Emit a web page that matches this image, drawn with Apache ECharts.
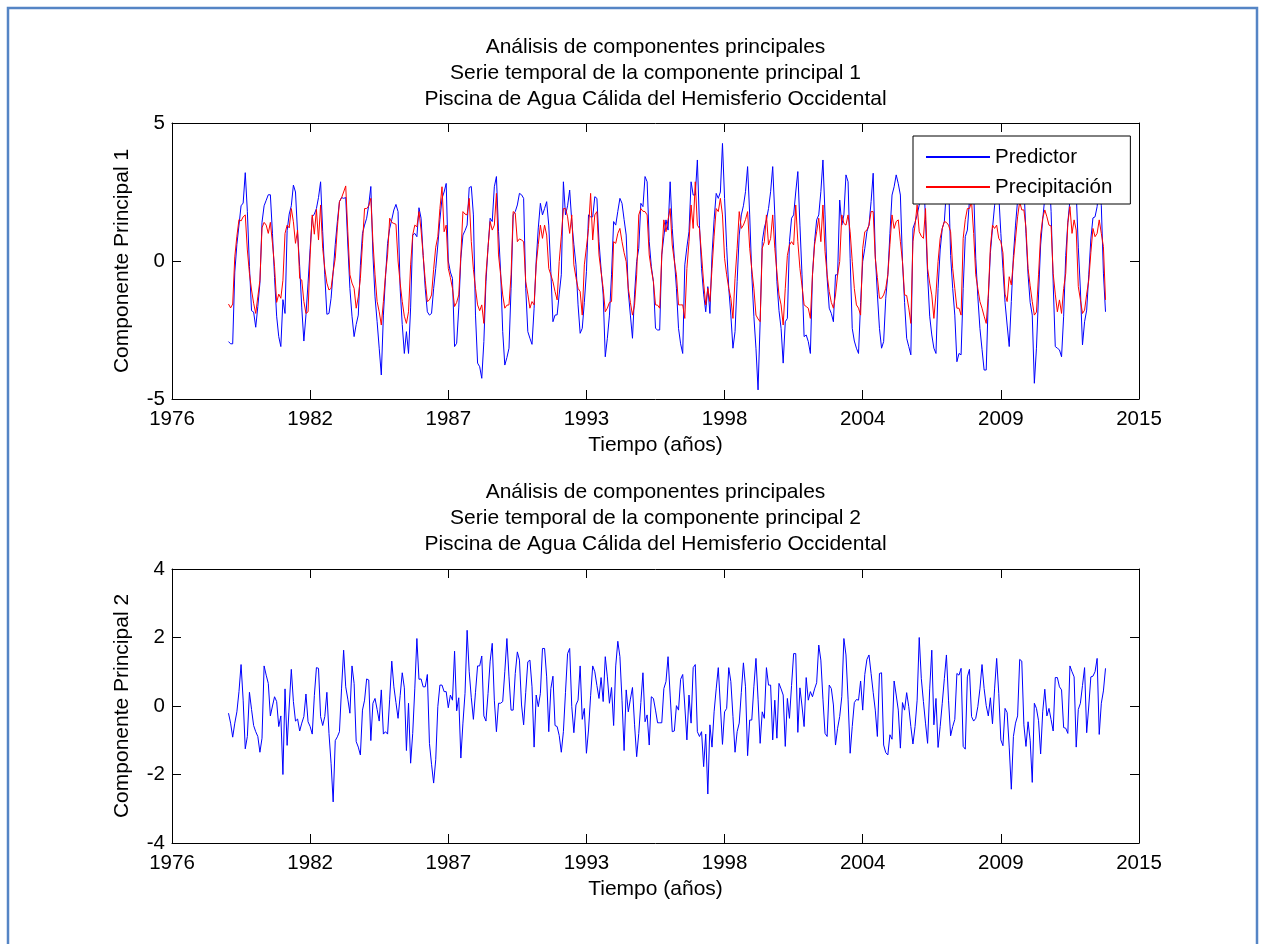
<!DOCTYPE html>
<html>
<head>
<meta charset="utf-8">
<title>Análisis de componentes principales</title>
<script src="https://cdn.jsdelivr.net/npm/echarts@6/dist/echarts.min.js"></script>
<style>
  html, body { margin: 0; padding: 0; background: #fff; }
  #chart { width: 1263px; height: 944px; }
</style>
</head>
<body>
<div id="chart"></div>
<script>
// etiquetas del eje de tiempo, una marca cada 66 meses
const tickLabels = ['1976', '1982', '1987', '1993', '1998', '2004', '2009', '2015'];
const firstMonth = 27; // ene 1979, en meses desde el inicio del eje

// CP1 - predictor (azul), mensual 1979-2013, una fila por año
const predictor = [
  -2.92, -3.0, -3.0, -0.4, 0.6, 1.3, 2.0, 2.1, 3.2, 1.8, -0.2, -1.8,
  -1.85, -2.4, -1.65, -0.8, 1.4, 2.0, 2.2, 2.4, 2.4, 1.0, -0.6, -2.0,
  -2.74, -3.1, -1.4, -1.9, 1.1, 1.7, 2.0, 2.75, 2.5, 1.0, -0.2, -1.7,
  -2.9, -1.95, -0.8, 0.45, 1.6, 1.7, 1.9, 2.3, 2.87, 1.06, -0.5, -1.93,
  -1.9, -1.35, -0.4, 0.6, 1.43, 2.15, 2.3, 2.27, 2.3, 0.58, -1.0, -2.0,
  -2.74, -2.3, -1.96, -0.15, 1.0, 1.3, 1.55, 2.03, 2.7, 0.22, -1.3, -2.2,
  -3.16, -4.13, -1.96, -0.6, 0.64, 1.18, 1.5, 1.85, 2.05, 1.79, -1.0, -2.3,
  -3.35, -2.56, -3.35, -1.7, 0.94, 1.0, 0.88, 1.93, 1.55, 0.2, -1.0, -1.84,
  -1.96, -1.9, -1.0, -0.27, 0.58, 1.5, 2.27, 2.5, 2.81, 0.0, -0.4, -0.63,
  -3.1, -2.98, -1.7, 0.1, 0.94, 1.1, 1.3, 2.66, 2.7, 1.67, -1.96, -3.7,
  -3.83, -4.25, -2.92, -0.75, 0.5, 1.55, 1.43, 2.69, 3.06, 1.06, -0.39, -2.56,
  -3.77, -3.5, -3.16, -0.99, 1.67, 1.79, 2.03, 2.45, 2.4, 2.27, -0.99, -2.56,
  -2.8, -3.02, -1.71, 0.0, 1.2, 2.09, 1.67, 1.9, 2.15, 1.3, -0.39, -2.2,
  -1.96, -1.95, -1.2, -0.5, 2.87, 1.67, 2.0, 2.57, 1.43, 0.6, -0.14, -1.59,
  -2.62, -2.44, -1.5, -0.39, 1.67, 1.6, 1.6, 2.33, 2.27, 0.7, -0.3, -1.23,
  -3.47, -2.8, -1.96, -0.5, 1.43, 1.3, 1.8, 2.27, 2.09, 1.5, 0.94, -1.11,
  -1.96, -2.8, -1.2, -0.02, 0.46, 2.09, 1.97, 3.06, 2.87, 0.7, -0.2, -0.75,
  -2.44, -2.5, -2.5, 0.22, 0.9, 1.49, 1.12, 2.87, 1.18, 0.1, -0.99, -2.44,
  -3.0, -3.35, -0.14, 0.5, 1.06, 2.87, 2.39, 2.39, 3.66, 1.3, -0.27, -1.2,
  -1.84, -0.93, -1.9, 0.22, 1.5, 2.45, 2.27, 2.5, 4.26, 2.27, 0.5, -0.99,
  -1.96, -3.16, -2.56, -0.75, 0.94, 1.67, 2.0, 2.51, 3.42, 1.67, -0.5, -2.0,
  -3.16, -4.67, -2.2, 0.7, 1.2, 1.49, 1.9, 2.51, 3.42, 1.67, -0.75, -1.8,
  -2.44, -3.7, -2.2, -2.08, 0.7, 1.55, 1.67, 2.5, 3.24, 1.3, -0.5, -2.74,
  -2.68, -2.92, -3.35, -0.5, 0.7, 1.49, 1.67, 2.51, 3.66, 1.67, -0.63, -1.71,
  -1.9, -2.2, -0.5, -0.5, 2.21, 1.3, 1.67, 3.12, 2.87, 0.1, -2.44, -2.9,
  -3.16, -3.35, -1.5, -0.02, 0.46, 1.06, 1.3, 2.15, 3.18, 0.22, -1.2, -2.44,
  -3.16, -2.92, -1.35, -0.5, 1.0, 2.39, 2.69, 3.12, 2.8, 2.39, -0.02, -1.5,
  -2.8, -3.1, -3.4, 1.18, 1.4, 1.67, 2.03, 2.8, 3.2, 1.5, -0.5, -2.0,
  -2.68, -3.16, -3.35, -0.99, 0.4, 1.18, 1.43, 2.6, 3.0, 0.2, -1.0, -1.96,
  -3.65, -3.35, -3.4, -1.0, 0.88, 1.12, 2.2, 2.9, 2.6, 0.1, -1.3, -2.44,
  -3.2, -3.95, -3.95, -1.35, 0.3, 1.18, 2.0, 2.6, 2.4, 1.0, -0.27, -1.5,
  -2.32, -3.1, -1.47, 0.2, 1.3, 2.2, 2.5, 3.0, 2.7, 1.0, -0.5, -1.5,
  -1.96, -4.43, -3.16, -1.23, 0.58, 1.5, 2.3, 2.9, 3.3, 1.8, -0.8, -3.1,
  -3.16, -3.22, -3.47, -2.0, 0.2, 1.4, 2.2, 3.0, 3.3, 2.5, 0.5, -1.05,
  -3.04, -2.2, -1.78, -0.5, 0.8, 1.56, 1.6, 1.97, 2.8, 2.0, -0.44, -1.84
];

// CP1 - precipitación (rojo)
const precipitacion = [
  -1.56, -1.7, -1.56, 0.15, 0.9, 1.5, 1.45, 1.6, 1.67, 0.4, -0.45, -1.05,
  -1.53, -1.9, -1.3, -0.7, 1.2, 1.4, 1.3, 1.0, 1.4, 0.65, -0.2, -1.5,
  -1.2, -1.35, -0.7, 1.0, 1.3, 1.2, 1.9, 1.42, 0.64, 1.12, -0.63, -0.69,
  -1.47, -1.9, -1.84, 0.22, 1.67, 0.97, 1.87, 0.76, 2.03, 0.46, -0.27, -0.8,
  -1.05, -0.99, -0.39, 0.1, 1.2, 2.15, 2.29, 2.5, 2.72, 1.06, -0.5, -0.8,
  -0.99, -1.71, -1.3, -0.63, 0.64, 1.9, 1.9, 2.0, 2.27, 0.7, -0.5, -1.47,
  -1.84, -2.32, -1.47, -0.5, 0.22, 1.55, 1.4, 1.36, 1.33, 0.0, -0.8, -1.47,
  -2.0, -2.26, -1.84, -0.14, 0.94, 1.3, 1.24, 1.79, 1.12, 0.2, -0.7, -1.47,
  -1.41, -1.23, -0.3, 0.5, 0.88, 1.9, 2.69, 1.06, 1.3, -0.27, -0.6, -0.99,
  -1.65, -1.5, -1.23, 0.22, 1.79, 1.7, 1.67, 2.27, 0.7, -0.3, -0.99, -1.59,
  -1.8, -1.59, -2.26, -0.5, 0.5, 1.43, 1.12, 1.3, 2.45, 0.22, -0.5, -1.23,
  -1.71, -1.6, -1.59, -0.5, 1.79, 1.73, 0.7, 0.8, 0.76, 0.7, -0.75, -1.2,
  -1.71, -1.47, -1.59, -0.14, 0.6, 1.3, 0.82, 1.3, 0.94, -0.27, -0.5, -0.75,
  -1.11, -1.41, -0.02, 0.9, 1.9, 1.9, 1.6, 1.0, 1.67, -0.14, -0.6, -0.99,
  -1.11, -1.96, -0.14, 0.5, 1.18, 2.45, 0.76, 1.67, 1.79, 0.22, -0.4, -0.99,
  -1.84, -1.71, -1.5, -1.47, 0.7, 0.64, 1.0, 1.18, 0.7, 0.3, -0.02, -0.99,
  -1.5, -1.96, -1.6, -0.5, 1.67, 1.9, 1.8, 1.79, 1.67, 0.22, -0.3, -0.75,
  -1.59, -1.6, -1.71, 0.22, 1.49, 1.06, 1.5, 1.9, 0.58, 0.0, -0.5, -1.59,
  -1.59, -1.59, -2.08, -0.27, 0.7, 2.03, 1.18, 2.87, 1.3, 1.18, 0.22, -0.8,
  -1.59, -0.99, -1.47, -0.27, 0.9, 1.9, 1.79, 2.27, 1.67, 0.1, -0.5, -0.99,
  -1.35, -2.08, -0.63, 0.46, 1.79, 1.18, 1.3, 1.5, 1.79, 0.46, -0.3, -0.99,
  -1.96, -2.1, -2.2, 0.46, 0.7, 1.67, 0.58, 0.82, 1.67, 0.46, -0.4, -1.23,
  -1.59, -2.32, -0.99, 0.2, 0.58, 0.7, 0.58, 2.03, 0.7, -0.27, -0.9, -1.59,
  -1.65, -1.71, -2.08, -0.5, 0.58, 1.06, 1.55, 0.7, 2.03, 0.34, -0.5, -1.11,
  -1.5, -1.71, -1.23, -0.5, -0.02, 1.67, 1.36, 1.3, 1.67, 1.06, -0.02, -1.0,
  -1.59, -1.71, -1.96, 0.46, 1.06, 1.12, 1.3, 1.79, 1.79, 0.1, -0.6, -1.35,
  -1.35, -1.23, -0.99, -0.5, 0.6, 1.67, 1.18, 1.43, 1.49, 0.7, -0.02, -1.23,
  -1.25, -1.7, -2.26, 0.7, 1.3, 2.03, 1.06, 0.9, 0.82, 1.9, -0.27, -0.8,
  -1.23, -2.08, -1.2, -0.02, 0.82, 1.18, 1.43, 1.4, 1.3, 1.06, -0.27, -1.0,
  -1.71, -1.71, -1.96, 0.82, 1.5, 1.9, 1.9, 2.15, 1.0, -0.5, -1.0, -1.47,
  -1.71, -2.0, -2.26, -1.23, 0.5, 1.3, 1.18, 1.3, 0.82, 0.7, 0.3, -1.2,
  -1.47, -0.57, -0.87, 0.0, 0.8, 1.6, 2.15, 1.85, 1.85, 1.2, -0.27, -0.9,
  -1.47, -1.96, -1.85, -0.5, 0.94, 1.55, 1.85, 1.6, 1.3, 1.27, -0.45, -1.2,
  -1.84, -1.41, -1.9, -1.0, -0.45, 1.37, 1.97, 1.0, 1.49, 1.12, -0.93, -1.4,
  -1.9, -1.78, -1.2, -0.69, 0.3, 1.18, 0.88, 1.0, 1.49, 1.0, 0.52, -1.41
];

// CP2 (azul)
const componente2 = [
  -0.21, -0.5, -0.91, -0.5, -0.17, 0.42, 1.21, 0.17, -1.25, -0.89, 0.4, -0.1,
  -0.57, -0.75, -0.89, -1.35, -0.94, 1.17, 0.9, 0.66, -0.29, 0.0, 0.27, 0.13,
  -0.6, -0.29, -2.0, 0.5, -1.15, 0.0, 1.07, 0.13, -0.44, -0.38, -0.73, -0.5,
  -0.31, 0.35, -0.46, -0.6, -0.82, 0.3, 1.12, 1.1, -0.31, -0.57, -0.31, 0.4,
  -0.8, -1.67, -2.8, -1.01, -0.9, -0.75, 0.5, 1.63, 0.56, 0.2, -0.21, 1.17,
  0.66, -1.04, -1.2, -1.43, -0.12, 0.17, 0.79, 0.76, -1.01, 0.08, 0.22, -0.1,
  -0.44, 0.47, -0.82, -0.75, -0.82, 0.2, 1.31, 0.56, 0.1, -0.36, 0.3, 0.97,
  0.53, -1.3, 0.08, -1.67, -0.8, 0.5, 1.97, 0.78, 0.79, 0.56, 0.56, 0.92,
  -1.09, -1.7, -2.25, -1.57, -0.02, 0.61, 0.61, 0.42, 0.42, -0.05, 0.32, 0.17,
  1.6, -0.14, 0.24, -1.52, -0.5, 0.37, 2.21, 1.0, 0.24, -0.39, 0.4, 1.17,
  1.17, 1.46, -0.29, -0.44, 0.37, 1.31, 1.83, 0.17, -0.75, 0.08, 0.08, 0.13,
  1.0, 1.97, 0.85, -0.12, -0.12, 0.95, 1.58, 1.34, 0.03, -0.55, 0.4, 1.29,
  1.34, 0.56, -1.2, 0.32, -0.02, 0.37, 1.68, 1.68, 0.85, -0.75, 0.51, 0.87,
  -0.57, -0.6, -0.86, -1.35, -0.75, 0.4, 1.53, 1.68, -0.02, -0.78, 0.03, 0.17,
  1.17, -0.39, -0.07, -1.38, -0.7, 0.3, 1.17, 1.0, 0.6, 0.22, 0.83, 0.13,
  1.44, 0.85, 0.08, 0.54, -0.57, 1.17, 1.89, 1.44, 0.17, -1.3, 0.47, -0.17,
  0.2, 0.54, -0.55, -1.48, -0.8, 0.1, 0.97, -0.46, -0.26, -1.14, 0.27, 0.22,
  -0.12, -0.49, -0.49, -0.49, 0.51, 0.71, 1.44, 0.32, -0.75, -0.73, 0.01, -0.12,
  0.78, 0.92, 0.0, -0.99, 0.32, -0.5, 1.12, 1.21, -0.75, -0.89, -0.75, -1.77,
  -0.82, -2.57, -0.55, -1.2, -0.17, 0.5, 1.12, 0.0, -1.12, -0.17, -0.07, 1.12,
  0.71, -0.3, -1.35, -0.75, -0.5, 0.4, 1.26, 0.56, -1.45, -0.41, -0.41, 0.56,
  1.39, 0.2, -1.09, -0.17, -0.36, 1.12, 0.61, 0.61, -0.99, 0.17, -0.94, 0.66,
  0.5, 0.32, -1.18, 0.22, -0.36, 0.6, 1.53, 1.53, -0.77, 0.53, 0.0, -0.6,
  0.83, 0.17, 0.42, 0.27, 0.5, 0.68, 1.78, 1.34, 0.2, -0.8, -0.89, 0.61,
  0.51, 0.03, -1.14, -0.65, -0.31, 0.27, 1.97, 1.49, 0.2, -1.38, -0.6, 0.1,
  0.19, 0.17, 0.73, -0.12, 0.92, 1.36, 1.49, 0.95, 0.4, -0.12, -0.89, 0.95,
  0.97, -1.14, -1.36, -1.43, -0.84, -0.97, 0.73, 0.32, -0.12, -1.23, 0.1, -0.12,
  0.39, -0.02, -0.6, -1.11, -0.6, 0.17, 2.0, 0.8, 0.13, -0.5, -1.09, 0.5,
  1.63, -0.55, 0.22, -1.21, -0.6, 0.08, 0.8, 1.49, 0.17, -0.87, -0.6, -0.39,
  0.95, 0.9, 1.1, -1.18, -1.26, 0.85, 1.07, -0.31, -0.44, -0.36, -0.02, 0.5,
  1.21, 0.51, 0.01, -0.29, 0.24, -0.52, 0.5, 1.39, 0.37, -0.99, -1.16, -0.07,
  -0.19, -1.2, -2.43, -0.89, -0.5, -0.29, 1.36, 1.31, -0.55, -1.18, -0.46, -1.0,
  -2.23, 0.08, -0.07, -0.43, -1.4, -0.17, 0.49, -0.29, -0.07, -0.4, -0.73, 0.83,
  0.83, 0.56, 0.47, -0.63, -0.65, -0.8, 1.17, 1.0, 0.85, -1.2, -0.1, 0.08,
  0.6, 1.12, -0.78, 0.0, 0.85, 0.87, 1.0, 1.39, -0.83, 0.08, 0.44, 1.1
];

const font = 'Liberation Sans, Arial, Helvetica, sans-serif';
const tickStep = 66;

const chart = echarts.init(document.getElementById('chart'), null, { renderer: 'canvas' });

const toPoints = arr => arr.map((v, i) => [firstMonth + i, v]);

// eje x (abajo con etiquetas, arriba solo marcas)
function ejeX(grid, pos) {
  const labels = pos === 'bottom';
  return {
    type: 'value', gridIndex: grid, position: pos,
    min: 0, max: tickStep * 7, interval: tickStep,
    axisLine: { show: true, onZero: false, lineStyle: { color: '#000', width: 1 } },
    axisTick: { show: true, inside: true, length: 9, lineStyle: { color: '#000', width: 1 } },
    axisLabel: {
      show: labels, margin: 10, color: '#000', fontSize: 20.5, fontFamily: font,
      showMinLabel: true, showMaxLabel: true,
      formatter: v => tickLabels[Math.round(v / tickStep)]
    },
    splitLine: { show: false },
    name: labels ? 'Tiempo (años)' : '',
    nameLocation: 'middle', nameGap: 36,
    nameTextStyle: { color: '#000', fontSize: 21, fontFamily: font }
  };
}

function ejeY(grid, pos, lim, step, nombre) {
  const labels = pos === 'left';
  return {
    type: 'value', gridIndex: grid, position: pos,
    min: -lim, max: lim, interval: step,
    axisLine: { show: true, onZero: false, lineStyle: { color: '#000', width: 1 } },
    axisTick: { show: true, inside: true, length: 9, lineStyle: { color: '#000', width: 1 } },
    axisLabel: {
      show: labels, margin: 7, color: '#000', fontSize: 20.5, fontFamily: font,
      showMinLabel: true, showMaxLabel: true
    },
    splitLine: { show: false },
    name: labels ? nombre : '',
    nameLocation: 'middle', nameGap: 39, nameRotate: 90,
    nameTextStyle: { color: '#000', fontSize: 21, fontFamily: font }
  };
}

function titulo(y, n) {
  return {
    type: 'text', x: 655.5, y: y,
    style: {
      text: 'Análisis de componentes principales\n' +
            'Serie temporal de la componente principal ' + n + '\n' +
            'Piscina de Agua Cálida del Hemisferio Occidental',
      fill: '#000', font: '21px ' + font, lineHeight: 26,
      align: 'center', verticalAlign: 'top'
    }
  };
}

chart.setOption({
  animation: false,
  backgroundColor: '#fff',
  grid: [
    { left: 172, top: 123, width: 967, height: 276, outerBoundsMode: 'none' },
    { left: 172, top: 569, width: 967, height: 274, outerBoundsMode: 'none' }
  ],
  xAxis: [ejeX(0, 'bottom'), ejeX(0, 'top'), ejeX(1, 'bottom'), ejeX(1, 'top')],
  yAxis: [
    ejeY(0, 'left', 5, 5, 'Componente Principal 1'),
    ejeY(0, 'right', 5, 5, ''),
    ejeY(1, 'left', 4, 2, 'Componente Principal 2'),
    ejeY(1, 'right', 4, 2, '')
  ],
  legend: {
    data: ['Predictor', 'Precipitación'],
    orient: 'vertical',
    left: 913, top: 136,
    padding: [10, 18, 6, 13],
    itemGap: 8, itemWidth: 64, itemHeight: 2,
    icon: 'rect',
    backgroundColor: '#fff', borderColor: '#000', borderWidth: 1,
    textStyle: { color: '#000', fontSize: 20.5, lineHeight: 22, fontFamily: font },
    selectedMode: false,
    z: 10
  },
  graphic: [
    titulo(34, 1),
    titulo(479, 2),
    {
      type: 'rect', silent: true,
      shape: { x: 8, y: 8, width: 1249, height: 950 },
      style: { fill: 'none', stroke: '#5585c5', lineWidth: 2.5 }
    }
  ],
  series: [
    {
      name: 'Predictor', type: 'line', xAxisIndex: 0, yAxisIndex: 0,
      symbol: 'none', color: '#0000ff',
      lineStyle: { color: '#0000ff', width: 1 },
      data: toPoints(predictor)
    },
    {
      name: 'Precipitación', type: 'line', xAxisIndex: 0, yAxisIndex: 0,
      symbol: 'none', color: '#ff0000',
      lineStyle: { color: '#ff0000', width: 1 },
      data: toPoints(precipitacion)
    },
    {
      name: 'CP2', type: 'line', xAxisIndex: 2, yAxisIndex: 2,
      symbol: 'none', color: '#0000ff',
      lineStyle: { color: '#0000ff', width: 1 },
      data: toPoints(componente2)
    }
  ]
});
</script>
</body>
</html>
